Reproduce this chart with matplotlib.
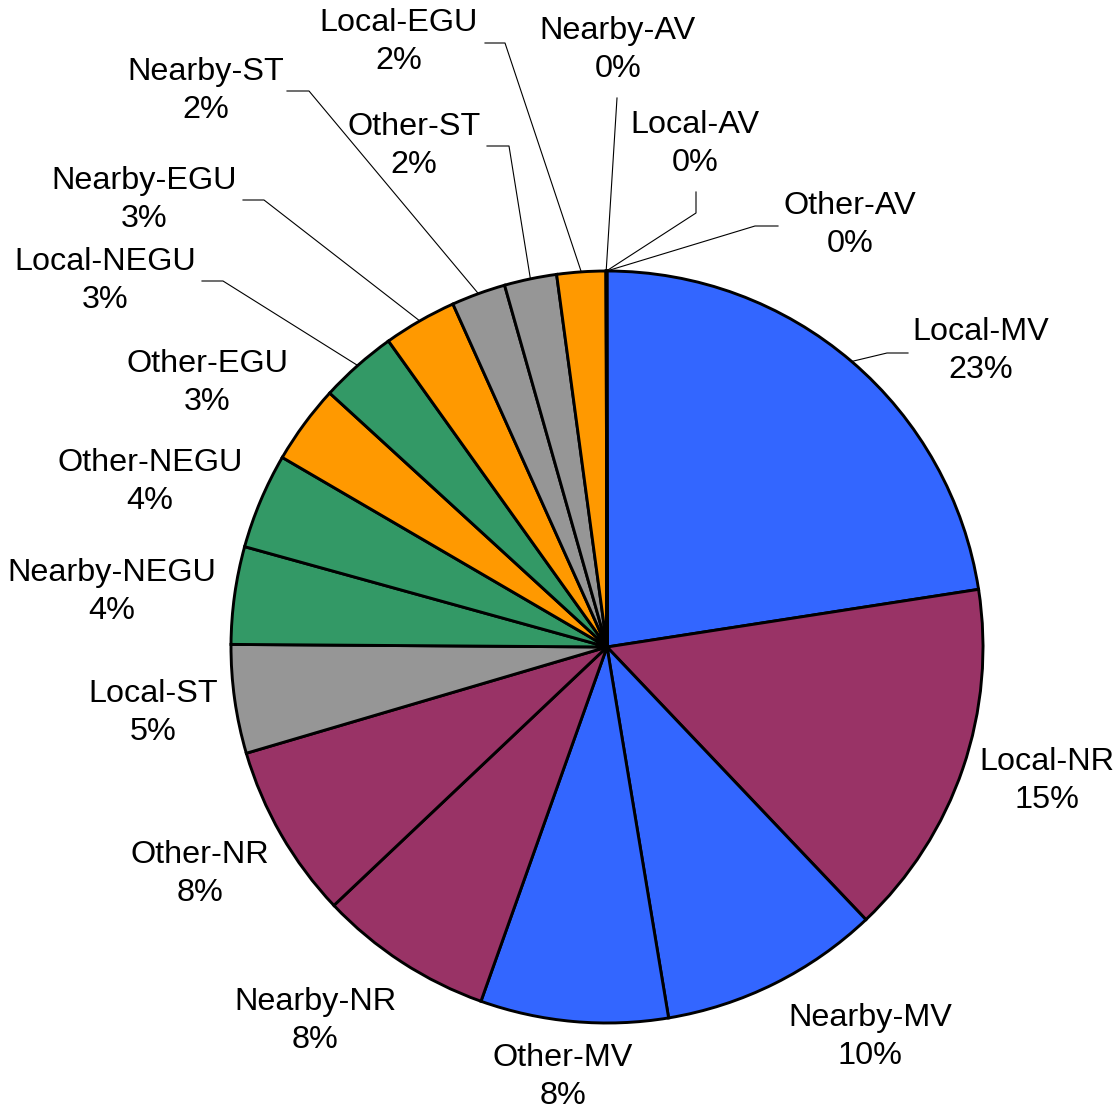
import numpy as np
import matplotlib
matplotlib.use("Agg")
import matplotlib.pyplot as plt

plt.rcParams['font.family'] = ['Liberation Sans', 'DejaVu Sans']

# slices, clockwise from 12 o'clock
names = ['Local-MV', 'Local-NR', 'Nearby-MV', 'Other-MV', 'Nearby-NR', 'Other-NR',
         'Local-ST', 'Nearby-NEGU', 'Other-NEGU', 'Other-EGU', 'Local-NEGU',
         'Nearby-EGU', 'Nearby-ST', 'Other-ST', 'Local-EGU',
         'Nearby-AV', 'Local-AV', 'Other-AV']
values = [22.55, 15.36, 9.47, 8.06, 7.5, 7.5,
          4.67, 4.19, 4.11, 3.39, 3.33,
          3.15, 2.33, 2.25, 2.1,
          0.01, 0.01, 0.02]
pct_labels = ['23%', '15%', '10%', '8%', '8%', '8%',
              '5%', '4%', '4%', '3%', '3%',
              '3%', '2%', '2%', '2%',
              '0%', '0%', '0%']
colors = ['#3366FF', '#993366', '#3366FF', '#3366FF', '#993366', '#993366',
          '#969696', '#339966', '#339966', '#FF9900', '#339966',
          '#FF9900', '#969696', '#969696', '#FF9900',
          '#FFCC99', '#FFCC99', '#FFCC99']

W, H = 1115, 1113
cx, cy, R = 607, H - 647, 376

# label block centres (pixel coords, y from top)
label_pos = {
    'Local-MV': (981, 351), 'Local-NR': (1047, 781), 'Nearby-MV': (870, 1037),
    'Other-MV': (563, 1077), 'Nearby-NR': (315, 1021), 'Other-NR': (200, 874),
    'Local-ST': (153, 713), 'Nearby-NEGU': (112, 592), 'Other-NEGU': (150, 482),
    'Other-EGU': (207, 383), 'Local-NEGU': (105, 281), 'Nearby-EGU': (144, 200),
    'Nearby-ST': (206, 91), 'Other-ST': (414, 146), 'Local-EGU': (399, 42),
    'Nearby-AV': (618, 50), 'Local-AV': (695, 144), 'Other-AV': (850, 225),
}
# leader line points after the wedge anchor
leaders = {
    'Local-MV': [(887, 353), (908, 353)],
    'Local-EGU': [(505, 43), (485, 43)],
    'Nearby-ST': [(309, 91), (287, 91)],
    'Other-ST': [(509, 146), (487, 146)],
    'Nearby-EGU': [(264, 200), (243, 200)],
    'Local-NEGU': [(223, 281), (202, 281)],
    'Nearby-AV': [(617, 98)],
    'Local-AV': [(696, 213), (696, 192)],
    'Other-AV': [(755, 226), (778, 226)],
}

fig = plt.figure(figsize=(W / 100, H / 100), dpi=100)
ax = fig.add_axes([0, 0, 1, 1])

wedges, _ = ax.pie(values, colors=colors, startangle=90, counterclock=False,
                   center=(cx, cy), radius=R, frame=True,
                   wedgeprops=dict(edgecolor='black', linewidth=2.1))
ax.set_xlim(0, W)
ax.set_ylim(0, H)
ax.set_aspect('equal')
ax.axis('off')

for w, name, pct in zip(wedges, names, pct_labels):
    x, y = label_pos[name]
    ax.text(x, H - y, name + '\n' + pct, ha='center', va='center',
            fontsize=23.3, linespacing=1.38)
    if name in leaders:
        mid = np.deg2rad((w.theta1 + w.theta2) / 2)
        xs = [cx + R * np.cos(mid)] + [p[0] for p in leaders[name]]
        ys = [cy + R * np.sin(mid)] + [H - p[1] for p in leaders[name]]
        ax.plot(xs, ys, color='black', linewidth=0.8)

fig.savefig('out.png', dpi=100)
